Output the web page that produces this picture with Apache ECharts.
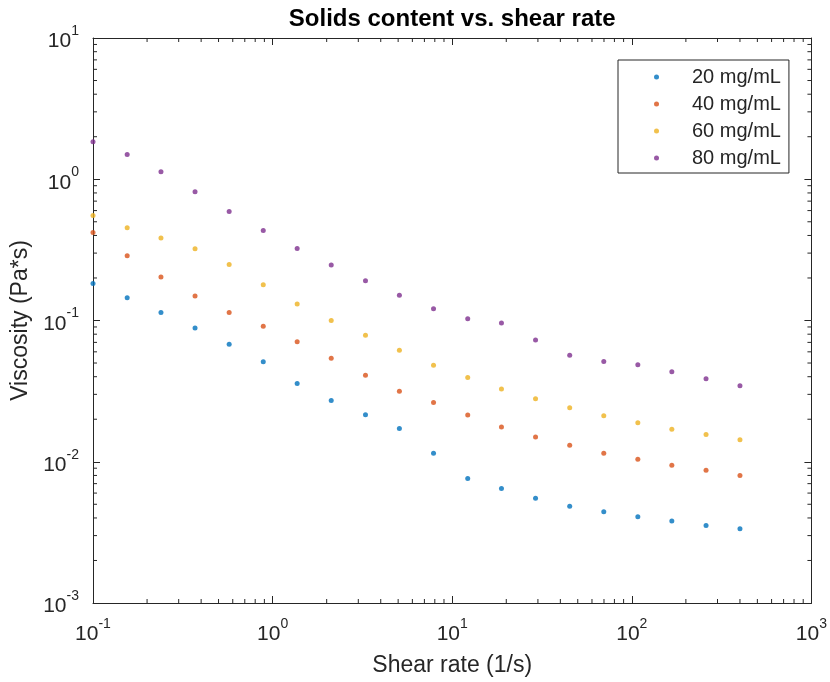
<!DOCTYPE html>
<html>
<head>
<meta charset="utf-8">
<script src="https://cdn.jsdelivr.net/npm/echarts@6/dist/echarts.min.js"></script>
<style>
html, body { margin: 0; padding: 0; background: #fff; }
#main { width: 830px; height: 682px; }
</style>
</head>
<body>
<div id="main"></div>
<script>
// shear rate (1/s)
var shearRate = [0.1, 0.155, 0.239, 0.370, 0.573, 0.887, 1.37, 2.12, 3.29, 5.08,
                 7.87, 12.2, 18.8, 29.1, 45.1, 69.8, 108, 167, 259, 400];

// viscosity (Pa*s) per solids content
var visc20 = [0.183, 0.145, 0.114, 0.0886, 0.0679, 0.0510, 0.0358, 0.0271, 0.0215, 0.0172,
              0.0115, 0.0076, 0.00647, 0.00552, 0.00485, 0.00442, 0.00408, 0.0038, 0.00354, 0.00335];
var visc40 = [0.420, 0.287, 0.203, 0.149, 0.114, 0.091, 0.0706, 0.0541, 0.041, 0.0315,
              0.0263, 0.0214, 0.0176, 0.015, 0.0131, 0.0115, 0.0104, 0.00945, 0.0087, 0.008];
var visc60 = [0.553, 0.453, 0.383, 0.322, 0.249, 0.179, 0.131, 0.100, 0.0786, 0.0616,
              0.0483, 0.0395, 0.0327, 0.0279, 0.0241, 0.0212, 0.0189, 0.017, 0.0156, 0.0143];
var visc80 = [1.84, 1.50, 1.13, 0.817, 0.590, 0.434, 0.324, 0.247, 0.191, 0.151,
              0.121, 0.103, 0.0961, 0.0729, 0.0568, 0.0513, 0.0486, 0.0434, 0.0387, 0.0345];

var seriesNames = ['20 mg/mL', '40 mg/mL', '60 mg/mL', '80 mg/mL'];
var seriesColors = ['#0072BD', '#D95319', '#EDB120', '#7E2F8E'];

var xRange = [0.1, 1000];
var yRange = [0.001, 10];

var axisColor = '#262626';
var fontFam = '"Liberation Sans", Arial, Helvetica, sans-serif';

// minor ticks at 2..9 of every decade (matlab style)
function decadeMinors(lo, hi)
{
    var out = [];
    for (var d = lo; d < hi; d *= 10) {
        for (var k = 2; k <= 9; k++) out.push(+(d * k).toPrecision(3));
    }
    return out;
}
var xMinorTicks = decadeMinors(xRange[0], xRange[1]);
var yMinorTicks = decadeMinors(yRange[0], yRange[1]);

var pair = ys => shearRate.map((x, i) => [x, ys[i]]);
var allVisc = [visc20, visc40, visc60, visc80];

var powLabel = v => '{b|10}{s|' + Math.round(Math.log10(v)) + '}';
var labelRich = {
    b: { fontSize: 21, lineHeight: 28, verticalAlign: 'bottom', color: axisColor, fontFamily: fontFam },
    s: { fontSize: 14, lineHeight: 14, verticalAlign: 'top', color: axisColor, fontFamily: fontFam }
};

function minorX(params, api)
{
    var cs = params.coordSys;
    var x = api.coord([api.value(0), 1])[0];
    var bot = cs.y + cs.height;
    return {
        type: 'group',
        children: [
            { type: 'line', shape: { x1: x, y1: bot, x2: x, y2: bot - 4 }, style: { stroke: axisColor, lineWidth: 1 } },
            { type: 'line', shape: { x1: x, y1: cs.y, x2: x, y2: cs.y + 4 }, style: { stroke: axisColor, lineWidth: 1 } }
        ]
    };
}

function minorY(params, api)
{
    var cs = params.coordSys;
    var y = api.coord([1, api.value(1)])[1];
    var right = cs.x + cs.width;
    return {
        type: 'group',
        children: [
            { type: 'line', shape: { x1: cs.x, y1: y, x2: cs.x + 4, y2: y }, style: { stroke: axisColor, lineWidth: 1 } },
            { type: 'line', shape: { x1: right, y1: y, x2: right - 4, y2: y }, style: { stroke: axisColor, lineWidth: 1 } }
        ]
    };
}

var myChart = echarts.init(document.getElementById('main'), null, { renderer: 'canvas' });

var series = seriesNames.map((name, i) => ({
    name: name,
    type: 'scatter',
    data: pair(allVisc[i]),
    symbol: 'circle',
    symbolSize: 5,
    clip: false,
    itemStyle: { color: seriesColors[i] },
    z: 5
}));

series.push({
    type: 'custom',
    silent: true,
    data: xMinorTicks.map(v => [v, 1]),
    renderItem: minorX,
    z: 3
});
series.push({
    type: 'custom',
    silent: true,
    data: yMinorTicks.map(v => [1, v]),
    renderItem: minorY,
    z: 3
});

var sideAxis = {
    type: 'log',
    logBase: 10,
    axisLine: { show: true, onZero: false, lineStyle: { color: axisColor, width: 1 } },
    axisTick: { show: true, inside: true, length: 7, lineStyle: { color: axisColor } },
    splitLine: { show: false },
    axisLabel: { show: false }
};

var option = {
    animation: false,
    backgroundColor: '#fff',
    grid: { left: 93, right: 18, top: 38, bottom: 78 },
    legend: {
        data: seriesNames,
        orient: 'vertical',
        left: 618,
        top: 60,
        padding: [7, 8, 5, 36],
        itemGap: 7,
        itemWidth: 5,
        itemHeight: 5,
        icon: 'circle',
        borderColor: axisColor,
        borderWidth: 1,
        backgroundColor: '#fff',
        textStyle: { fontSize: 20, lineHeight: 20, padding: [0, 0, 0, 28], color: axisColor, fontFamily: fontFam }
    },
    xAxis: [
        Object.assign({}, sideAxis, {
            position: 'bottom',
            min: xRange[0],
            max: xRange[1],
            name: 'Shear rate (1/s)',
            nameLocation: 'middle',
            nameGap: 51,
            nameTextStyle: { fontSize: 23, color: axisColor, fontFamily: fontFam },
            axisLabel: {
                show: true,
                margin: 14,
                showMinLabel: true,
                showMaxLabel: true,
                formatter: powLabel,
                rich: labelRich
            }
        }),
        Object.assign({}, sideAxis, {
            position: 'top',
            min: xRange[0],
            max: xRange[1],
            name: 'Solids content vs. shear rate',
            nameLocation: 'middle',
            nameGap: 7,
            nameTextStyle: { fontSize: 24, fontWeight: 'bold', color: '#000', fontFamily: fontFam }
        })
    ],
    yAxis: [
        Object.assign({}, sideAxis, {
            position: 'left',
            min: yRange[0],
            max: yRange[1],
            name: 'Viscosity (Pa*s)',
            nameLocation: 'middle',
            nameGap: 58,
            nameTextStyle: { fontSize: 23, color: axisColor, fontFamily: fontFam },
            axisLabel: {
                show: true,
                margin: 14,
                showMinLabel: true,
                showMaxLabel: true,
                formatter: powLabel,
                rich: labelRich
            }
        }),
        Object.assign({}, sideAxis, {
            position: 'right',
            min: yRange[0],
            max: yRange[1]
        })
    ],
    series: series
};

myChart.setOption(option);
</script>
</body>
</html>
